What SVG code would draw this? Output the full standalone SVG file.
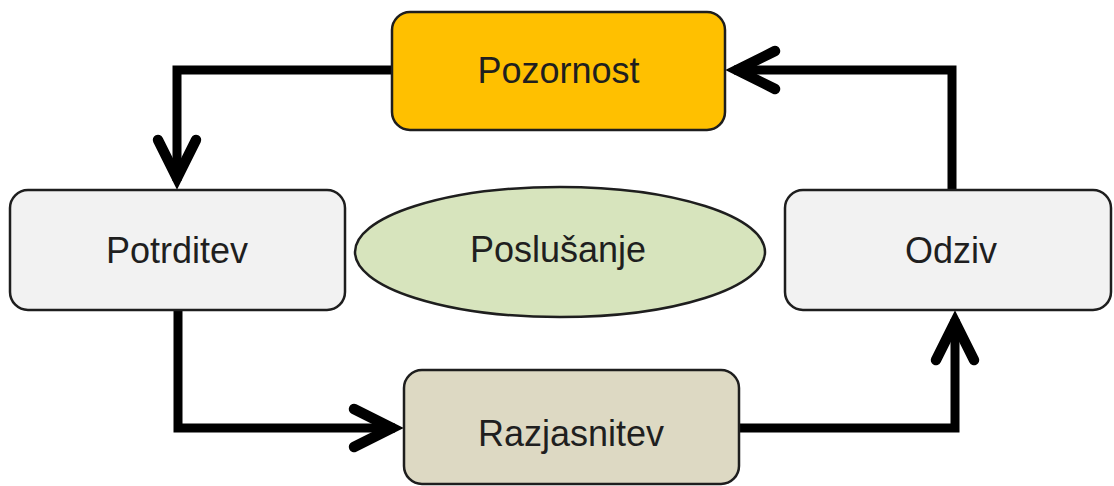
<svg xmlns="http://www.w3.org/2000/svg" width="1114" height="486" viewBox="0 0 1114 486">
  <defs>
    <style>
      .box { stroke: #1e1e1e; stroke-width: 2.5; }
      .label { font-family: "Liberation Sans", Arial, sans-serif; font-size: 36px; fill: #1f1f1f; text-anchor: middle; }
      .link { fill: none; stroke: #000; stroke-width: 9; stroke-linejoin: miter; }
    </style>
    <!-- open chevron head; the miter point sits 8 units beyond the line end -->
    <marker id="chevron" markerUnits="userSpaceOnUse" viewBox="-60 -30 70 60" markerWidth="70" markerHeight="60" refX="-8" refY="0" orient="auto">
      <path d="M-49,-19 L-11,0 L-49,19" fill="none" stroke="#000" stroke-width="10.5" stroke-linecap="round" stroke-linejoin="miter"/>
    </marker>
  </defs>
  <rect width="1114" height="486" fill="#fff"/>

  <g id="connectors">
    <path class="link" d="M392,70 H177 V181" marker-end="url(#chevron)"/>
    <path class="link" d="M178,310 V428 H395" marker-end="url(#chevron)"/>
    <path class="link" d="M739,428 H955 V319" marker-end="url(#chevron)"/>
    <path class="link" d="M952,190 V70 H734" marker-end="url(#chevron)"/>
  </g>

  <g id="pozornost">
    <rect class="box" x="392" y="12" width="333" height="118" rx="18" fill="#ffc000"/>
    <text class="label" x="558.5" y="83">Pozornost</text>
  </g>

  <g id="potrditev">
    <rect class="box" x="10" y="190" width="335" height="120" rx="18" fill="#f2f2f2"/>
    <text class="label" x="177" y="263">Potrditev</text>
  </g>

  <g id="poslusanje">
    <ellipse class="box" cx="560" cy="252" rx="205" ry="65" fill="#d7e4bd"/>
    <text class="label" x="558" y="262">Poslušanje</text>
  </g>

  <g id="odziv">
    <rect class="box" x="785" y="190" width="326" height="120" rx="18" fill="#f2f2f2"/>
    <text class="label" x="951" y="263">Odziv</text>
  </g>

  <g id="razjasnitev">
    <rect class="box" x="404" y="370" width="335" height="114" rx="18" fill="#ddd9c3"/>
    <text class="label" x="571" y="446">Razjasnitev</text>
  </g>
</svg>
